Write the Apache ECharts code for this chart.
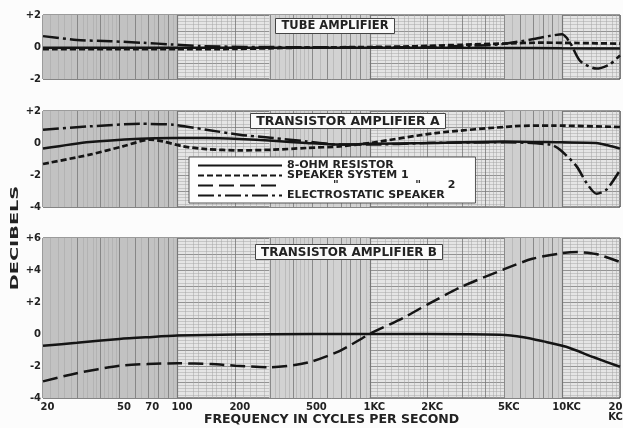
<!DOCTYPE html>
<html>
<head>
<meta charset="utf-8">
<script src="https://cdn.jsdelivr.net/npm/echarts@6/dist/echarts.min.js"></script>
<style>
html,body{margin:0;padding:0;background:#fcfcfc;}
#c{width:623px;height:428px;}
</style>
</head>
<body>
<div id="c"></div>
<script>
// ---- axis ticks ----
const freqTicks = [20, 50, 70, 100, 200, 500, 1000, 2000, 5000, 10000, 20000];
const tickLabels = ['20', '50', '70', '100', '200', '500', '1KC', '2KC', '5KC', '10KC', '20\nKC'];

// ---- series names ----
const nameResistor = '8-OHM RESISTOR';
const nameSpk1 = 'SPEAKER SYSTEM 1';
const nameSpk2 = ' '.repeat(12) + '"' + ' '.repeat(20) + '"' + ' '.repeat(7) + '2';
const nameElec = 'ELECTROSTATIC SPEAKER';

// ---- panel 1 : tube amplifier ----
const tubeResF  = [20, 100, 1000, 5000, 10000, 20000];
const tubeResDb = [-0.05, -0.05, -0.05, -0.06, -0.08, -0.1];
const tubeSpk1F  = [20, 50, 100, 200, 300, 500, 1000, 1500, 2000, 3000, 5000, 8000, 12000, 20000];
const tubeSpk1Db = [-0.14, -0.14, -0.14, -0.12, -0.08, -0.03, 0, 0.03, 0.07, 0.14, 0.22, 0.27, 0.25, 0.21];
const tubeElecF  = [20, 30, 45, 67, 93, 130, 260, 1000, 2000, 3000, 4750, 7000, 8500, 10000, 11000, 12400, 15100, 17700, 20000];
const tubeElecDb = [0.68, 0.44, 0.36, 0.26, 0.16, 0.06, 0, -0.02, 0, 0.06, 0.17, 0.48, 0.68, 0.79, 0.27, -0.87, -1.35, -1.08, -0.52];

// ---- panel 2 : transistor amplifier A ----
const ampAResF  = [20, 35, 64, 95, 141, 210, 314, 470, 700, 1000, 2000, 5000, 10000, 15000, 18000, 20000];
const ampAResDb = [-0.35, 0.06, 0.27, 0.31, 0.31, 0.25, 0.14, 0, -0.1, -0.05, 0, 0.1, 0.04, 0, -0.2, -0.35];
const ampASpk1F  = [20, 35, 52, 72, 84, 107, 141, 210, 314, 470, 700, 1000, 2200, 5700, 9000, 20000];
const ampASpk1Db = [-1.31, -0.73, -0.21, 0.21, 0.1, -0.21, -0.38, -0.46, -0.42, -0.31, -0.21, 0, 0.62, 1.05, 1.09, 1.0];
const ampAElecF  = [20, 35, 64, 95, 141, 210, 314, 470, 700, 1000, 2000, 5000, 8660, 9760, 11900, 13400, 15100, 17000, 20000];
const ampAElecDb = [0.83, 1.04, 1.2, 1.14, 0.83, 0.52, 0.31, 0.1, -0.1, -0.1, 0, 0.05, -0.1, -0.42, -1.46, -2.5, -3.17, -2.92, -1.7];

// ---- panel 3 : transistor amplifier B ----
const ampBResF  = [20, 30, 50, 70, 100, 200, 500, 1000, 2000, 4750, 6300, 8000, 10500, 14500, 20000];
const ampBResDb = [-0.73, -0.55, -0.31, -0.2, -0.1, -0.03, 0, 0, 0, -0.05, -0.2, -0.46, -0.8, -1.44, -2.05];
const ampBSpk2F  = [20, 30, 50, 70, 100, 150, 200, 300, 400, 500, 700, 1000, 1500, 2000, 3000, 5000, 7000, 10000, 12000, 15000, 20000];
const ampBSpk2Db = [-2.96, -2.45, -1.98, -1.88, -1.83, -1.88, -1.98, -2.08, -1.95, -1.72, -1.05, 0, 1.02, 1.85, 2.95, 4.05, 4.7, 5.05, 5.12, 5.0, 4.5];

// ---- y ranges ----
const yMin = [-2, -4, -4];
const yMax = [2, 2, 6];

const lg = Math.log10;
const FONT = 'DejaVu Sans';
const INK = '#151515';

function pts(f, d) { return f.map((v, i) => [lg(v), d[i]]); }

// paper grid vertical lines (frequencies)
const majorLines = [], minorLines = [];
for (let dec = 10; dec <= 10000; dec *= 10) {
  for (let m = 1; m <= 10; m++) {
    const f = m * dec;
    if (f >= 20 && f <= 20000) majorLines.push(f);
  }
  const steps = [[1, 2, 0.1], [2, 5, 0.2], [5, 10, 0.5]];
  steps.forEach(([a, b, s]) => {
    for (let m = a + s; m < b - 1e-9; m += s) {
      if (Math.abs(m - Math.round(m)) < 1e-6) continue;
      const f = m * dec;
      if (f > 20 && f < 20000) minorLines.push(f);
    }
  });
}
const bands = [[20, 100, '#c2c2c2'], [300, 1000, '#d2d2d2'], [5000, 10000, '#cfcfcf']];

const grids = [
  {left: 43, right: 3, top: 15, height: 64},
  {left: 43, right: 3, top: 111, height: 96},
  {left: 43, right: 3, top: 238, height: 160}
].map(g => Object.assign(g, {show: true, containLabel: false, outerBoundsMode: 'none',
  backgroundColor: '#e5e5e5', borderColor: '#3a3a3a', borderWidth: 1}));

const xAxes = [0, 1, 2].map(i => ({
  type: 'value', gridIndex: i, min: lg(20), max: lg(20000),
  axisLine: {show: false}, splitLine: {show: false},
  axisTick: {show: false},
  axisLabel: i === 2 ? {
    show: true, customValues: freqTicks.map(lg), margin: 4,
    fontFamily: FONT, fontWeight: 'bold', fontSize: 10, color: '#222', lineHeight: 10,
    padding: [0, 0, 0, 9],
    formatter: v => {
      let k = 0, best = 1e9;
      freqTicks.forEach((f, j) => { const d = Math.abs(lg(f) - v); if (d < best) { best = d; k = j; } });
      return k === freqTicks.length - 1 ? '{r|' + tickLabels[k] + '}' : tickLabels[k];
    },
    rich: {r: {fontFamily: FONT, fontWeight: 'bold', fontSize: 10, color: '#222', lineHeight: 10, padding: [0, 18, 0, 0], align: 'center'}}
  } : {show: false},
  name: i === 2 ? 'FREQUENCY IN CYCLES PER SECOND' : '',
  nameLocation: 'middle', nameGap: 15, nameMoveOverlap: false,
  nameTextStyle: {fontFamily: FONT, fontWeight: 'bold', fontSize: 12.5, color: '#222', padding: [0, 0, 0, 0]}
}));

const yAxes = [0, 1, 2].map(i => ({
  type: 'value', gridIndex: i, min: yMin[i], max: yMax[i], interval: 1,
  axisLine: {show: false}, axisTick: {show: false},
  axisLabel: {
    margin: 2, fontFamily: FONT, fontWeight: 'bold', fontSize: 10, color: '#222',
    formatter: v => (Math.round(v) % 2 === 0 ? (v > 0 ? '+' + v : String(v)) : '')
  },
  splitLine: {show: true, lineStyle: {color: '#7d7d7d', width: 0.8}},
  minorTick: {show: false, splitNumber: 5},
  minorSplitLine: {show: true, lineStyle: {color: '#a6a6a6', width: 0.5}}
}));

function paperSeries(i) {
  const lines = majorLines.map(f => ({xAxis: lg(f), lineStyle: {color: '#777', width: (f === 100 || f === 1000 || f === 10000) ? 1.1 : 0.8, type: 'solid'}}))
    .concat(minorLines.map(f => ({xAxis: lg(f), lineStyle: {color: '#a4a4a4', width: 0.5, type: 'solid'}})));
  return {
    type: 'line', xAxisIndex: i, yAxisIndex: i, data: [], silent: true, z: 1,
    markArea: {silent: true, z: 1, data: bands.map(b => [{xAxis: lg(b[0]), itemStyle: {color: b[2]}}, {xAxis: lg(b[1])}])},
    markLine: {silent: true, z: 2, symbol: ['none', 'none'], label: {show: false}, animation: false, data: lines}
  };
}

const styleRes  = {color: INK, width: 2.5, type: 'solid'};
const styleSpk1 = {color: INK, width: 2.7, type: [6, 3]};
const styleSpk2 = {color: INK, width: 2.5, type: [15, 6]};
const styleElec = {color: INK, width: 2.5, type: [16, 4, 3, 4]};

function curve(name, i, f, d, ls) {
  return {name, type: 'line', xAxisIndex: i, yAxisIndex: i, data: pts(f, d), symbol: 'none', showSymbol: false,
    smooth: 0.25, z: 3, lineStyle: ls, itemStyle: {color: INK}};
}

const series = [
  curve(nameResistor, 1, ampAResF, ampAResDb, styleRes),
  curve(nameSpk1, 1, ampASpk1F, ampASpk1Db, styleSpk1),
  curve(nameSpk2, 2, ampBSpk2F, ampBSpk2Db, styleSpk2),
  curve(nameElec, 1, ampAElecF, ampAElecDb, styleElec),
  curve(nameResistor, 0, tubeResF, tubeResDb, styleRes),
  curve(nameSpk1, 0, tubeSpk1F, tubeSpk1Db, styleSpk1),
  curve(nameElec, 0, tubeElecF, tubeElecDb, styleElec),
  curve(nameResistor, 2, ampBResF, ampBResDb, styleRes),
  paperSeries(0), paperSeries(1), paperSeries(2)
];

function panelTitle(text, cx, top, size) {
  return {text, left: cx, top, textAlign: 'center', padding: [2, 6, 1, 6],
    backgroundColor: '#fafafa', borderColor: '#444', borderWidth: 1,
    textStyle: {fontFamily: FONT, fontWeight: 'bold', fontSize: size, color: '#222', lineHeight: 11}};
}

const chart = echarts.init(document.getElementById('c'), null, {renderer: 'canvas'});
chart.setOption({
  animation: false,
  backgroundColor: '#fcfcfc',
  title: [
    panelTitle('TUBE AMPLIFIER', 329, 19, 11.5),
    panelTitle('TRANSISTOR AMPLIFIER A', 342, 114, 12.5),
    panelTitle('TRANSISTOR AMPLIFIER B', 343, 245, 12)
  ],
  legend: {
    data: [nameResistor, nameSpk1, nameSpk2, nameElec],
    orient: 'vertical', left: 189, top: 157, itemWidth: 84, itemHeight: 9, itemGap: -1, itemTextGap: 8,
    padding: [3, 20, 2, 8], backgroundColor: '#fdfdfd', borderColor: '#555', borderWidth: 1,
    selectedMode: false, itemStyle: {opacity: 0},
    textStyle: {fontFamily: FONT, fontWeight: 'bold', fontSize: 11, color: '#222', lineHeight: 10}
  },
  graphic: [{
    type: 'text', x: 15, y: 238, rotation: Math.PI / 2, scaleX: 1.75,
    style: {text: 'DECIBELS', fontFamily: FONT, fontWeight: 'bold', fontSize: 11, fill: '#222', align: 'center', verticalAlign: 'middle'}
  }],
  grid: grids,
  xAxis: xAxes,
  yAxis: yAxes,
  series
});
</script>
</body>
</html>
